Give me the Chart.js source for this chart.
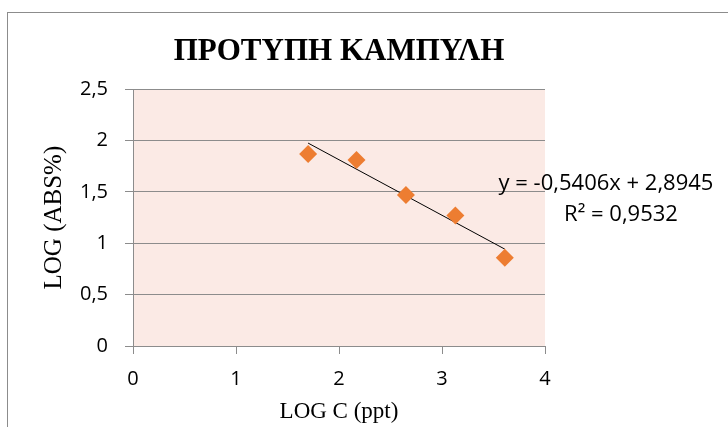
<!DOCTYPE html>
<html>
<head>
<meta charset="utf-8">
<script src="https://cdn.jsdelivr.net/npm/chart.js@4"></script>
<style>
    html, body { margin: 0; padding: 0; background: #fff; overflow: hidden; }
    #frame {
        position: absolute; left: 7px; top: 12px;
        width: 720px; height: 414px;
        border-left: 1px solid #8c8c8c; border-top: 1px solid #8c8c8c;
    }
</style>
</head>
<body>
<div id="frame"><canvas id="chart" width="720" height="414"></canvas></div>
<script>
// Data
const logC = [1.70, 2.17, 2.65, 3.13, 3.61];
const logAbs = [1.87, 1.81, 1.47, 1.27, 0.86];

// Linear trendline as printed on the chart
const slope = -0.5406;
const intercept = 2.8945;
const rSquared = 0.9532;

const titleText = 'ΠΡΟΤΥΠΗ ΚΑΜΠΥΛΗ';
const xTitle = 'LOG C (ppt)';
const yTitle = 'LOG (ABS%)';

const comma = v => String(v).replace('.', ',');

const points = logC.map((x, i) => ({ x, y: logAbs[i] }));
const xMin = Math.min(...logC);
const xMax = Math.max(...logC);
const trend = [
    { x: xMin, y: slope * xMin + intercept },
    { x: xMax, y: slope * xMax + intercept }
];

const tickFont = { family: 'Open Sans', size: 20 };

// pink plot area
const plotBg = {
    id: 'plotBg',
    beforeDraw(chart) {
        const { ctx, chartArea: a } = chart;
        ctx.save();
        ctx.fillStyle = '#FBEAE5';
        ctx.fillRect(a.left, a.top, a.right - a.left, a.bottom - a.top);
        ctx.restore();
    }
};

// trendline equation label
const eqLabel = {
    id: 'eqLabel',
    afterDatasetsDraw(chart) {
        const { ctx, chartArea: a } = chart;
        ctx.save();
        ctx.fillStyle = '#000';
        ctx.font = '22px "Open Sans"';
        ctx.textAlign = 'center';
        ctx.textBaseline = 'middle';
        ctx.fillText('y = ' + comma(slope) + 'x + ' + comma(intercept), a.right + 61, a.top + 95);
        ctx.fillText('R² = ' + comma(rSquared), a.right + 76, a.top + 126);
        ctx.restore();
    }
};

new Chart(document.getElementById('chart'), {
    type: 'scatter',
    data: {
        datasets: [
            {
                label: 'data',
                data: points,
                pointStyle: 'rectRot',
                pointRadius: 9,
                pointHoverRadius: 9,
                backgroundColor: '#ED7D31',
                borderWidth: 0
            },
            {
                label: 'trend',
                type: 'line',
                data: trend,
                borderColor: '#000',
                borderWidth: 1,
                pointRadius: 0,
                fill: false
            }
        ]
    },
    options: {
        responsive: false,
        animation: false,
        layout: { padding: { left: 0, right: 183, top: 0, bottom: 0 } },
        plugins: {
            legend: { display: false },
            tooltip: { enabled: false },
            title: {
                display: true,
                text: titleText,
                fullSize: false,
                color: '#000',
                font: { family: 'Liberation Serif', size: 31, weight: 'bold' },
                padding: { top: 20, bottom: 19 }
            }
        },
        scales: {
            x: {
                type: 'linear',
                min: 0, max: 4,
                afterFit: s => { s.height = 81; },
                ticks: { stepSize: 1, color: '#000', font: tickFont, padding: 13 },
                grid: { drawOnChartArea: false, color: '#8c8c8c', tickLength: 8 },
                border: { display: true, color: '#8c8c8c' },
                title: {
                    display: true, text: xTitle, color: '#000',
                    font: { family: 'Liberation Serif', size: 23 },
                    padding: { top: 0, bottom: 1 }
                }
            },
            y: {
                type: 'linear',
                min: 0, max: 2.5,
                afterFit: s => { s.width = 125; },
                ticks: { stepSize: 0.5, color: '#000', font: tickFont, padding: 17, callback: v => comma(v) },
                grid: { color: '#8c8c8c', tickLength: 8 },
                border: { display: true, color: '#8c8c8c' },
                title: {
                    display: true, text: yTitle, color: '#000',
                    font: { family: 'Liberation Serif', size: 25 },
                    padding: { top: 31, bottom: 0 }
                }
            }
        }
    },
    plugins: [plotBg, eqLabel]
});
</script>
</body>
</html>
